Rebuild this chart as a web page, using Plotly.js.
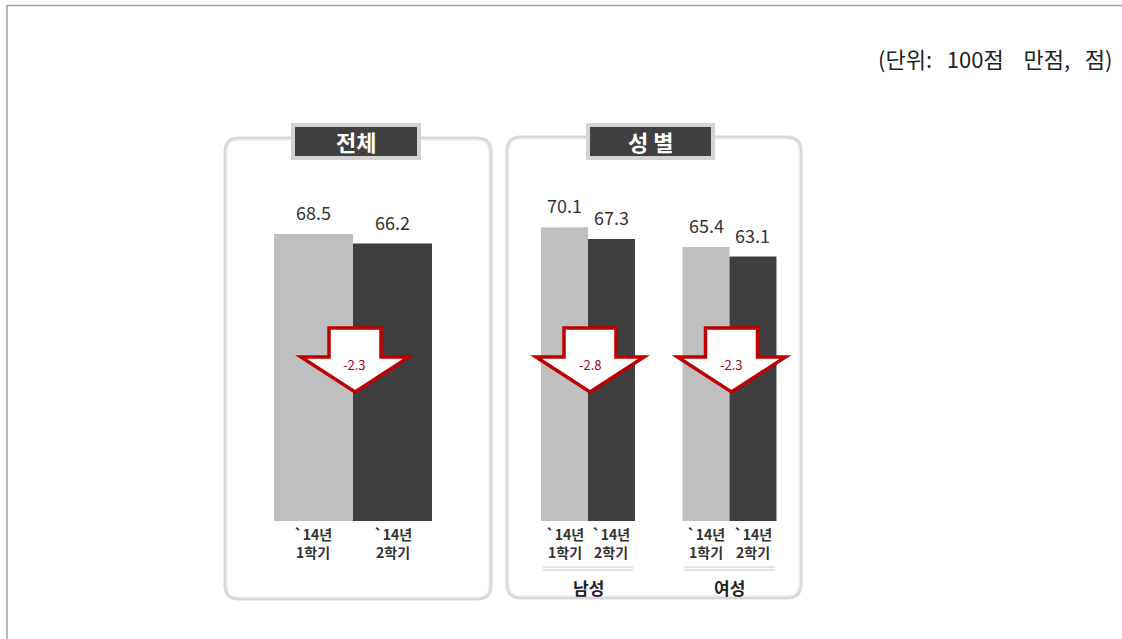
<!DOCTYPE html>
<html><head><meta charset="utf-8">
<script src="https://cdn.plot.ly/plotly-3.0.1.min.js"></script>
<style>html,body{margin:0;padding:0;background:#fff}#chart{width:1122px;height:639px}</style>
</head><body><div id="chart"></div>
<script>
// ---- data ----
const totalGroups = ['전체'];
const totalH1 = [68.5];
const totalH2 = [66.2];
const genderGroups = ['남성', '여성'];
const genderH1 = [70.1, 65.4];
const genderH2 = [67.3, 63.1];
const periodLabels = ['`14년<br>1학기', '`14년<br>2학기'];
const panelTitles = ['전체', '성 별'];
const unitText = '(단위:\u00a0\u00a0 100점\u00a0\u00a0\u00a0 만점,\u00a0\u00a0 점)';

// ---- layout helpers ----
const W = 1122, H = 639;
const FONT = '"Noto Sans CJK KR", "Noto Sans", sans-serif';
const LIGHT = '#bfbfbf', DARK = '#3f3f3f', RED = '#c00000';
const bargap = 0.336;
const bw = 1 - bargap;
const dom1 = [234 / W, 472 / W];
const dom2 = [517.25 / W, 800.25 / W];
const ppx = x => x / W;
const ppy = y => 1 - y / H;

const traces = [
  {type: 'bar', x: totalGroups, y: totalH1, xaxis: 'x', yaxis: 'y', marker: {color: LIGHT}, hoverinfo: 'skip', showlegend: false},
  {type: 'bar', x: totalGroups, y: totalH2, xaxis: 'x', yaxis: 'y', marker: {color: DARK}, hoverinfo: 'skip', showlegend: false},
  {type: 'bar', x: genderGroups, y: genderH1, xaxis: 'x2', yaxis: 'y', marker: {color: LIGHT}, hoverinfo: 'skip', showlegend: false},
  {type: 'bar', x: genderGroups, y: genderH2, xaxis: 'x2', yaxis: 'y', marker: {color: DARK}, hoverinfo: 'skip', showlegend: false}
];

const annotations = [];
const shapes = [];

// outer frame lines (top and left)
shapes.push({type: 'line', xref: 'paper', yref: 'paper', x0: ppx(7), x1: 1, y0: ppy(5.5), y1: ppy(5.5), line: {color: '#a0a0a0', width: 1.5}});
shapes.push({type: 'line', xref: 'paper', yref: 'paper', x0: ppx(7), x1: ppx(7), y0: ppy(5), y1: 0, line: {color: '#a0a0a0', width: 1.5}});

// rounded panel boxes
function roundRect(x0, y0, x1, y1, r) {
  const P = (x, y) => ppx(x) + ',' + ppy(y);
  return 'M' + P(x0 + r, y0) + ' L' + P(x1 - r, y0) + ' Q' + P(x1, y0) + ' ' + P(x1, y0 + r) +
    ' L' + P(x1, y1 - r) + ' Q' + P(x1, y1) + ' ' + P(x1 - r, y1) +
    ' L' + P(x0 + r, y1) + ' Q' + P(x0, y1) + ' ' + P(x0, y1 - r) +
    ' L' + P(x0, y0 + r) + ' Q' + P(x0, y0) + ' ' + P(x0 + r, y0) + ' Z';
}
[[225, 138, 491, 599], [507, 137, 801, 598]].forEach(b => {
  shapes.push({type: 'path', xref: 'paper', yref: 'paper', path: roundRect(b[0], b[1], b[2], b[3], 14), line: {color: '#d9d9d9', width: 3}, fillcolor: 'rgba(0,0,0,0)', layer: 'below'});
  shapes.push({type: 'path', xref: 'paper', yref: 'paper', path: roundRect(b[0] + 2, b[1] + 2, b[2] - 2, b[3] - 2, 12), line: {color: '#eeeeee', width: 1}, fillcolor: 'rgba(0,0,0,0)', layer: 'below'});
});

// title tabs
[[293, 125, 419, 158, panelTitles[0]], [588, 125, 713, 158, panelTitles[1]]].forEach(t => {
  shapes.push({type: 'rect', xref: 'paper', yref: 'paper', x0: ppx(t[0]), x1: ppx(t[2]), y0: ppy(t[1]), y1: ppy(t[3]), fillcolor: '#404040', line: {color: '#d3d3d3', width: 4}});
  annotations.push({xref: 'paper', yref: 'paper', x: ppx((t[0] + t[2]) / 2), y: ppy((t[1] + t[3]) / 2), text: '<b>' + t[4] + '</b>', showarrow: false, xanchor: 'center', yanchor: 'middle', font: {family: FONT, size: 22, color: '#ffffff'}});
});

// per-panel labels, values and arrows
function panel(groups, h1, h2, xref, dom) {
  const n = groups.length;
  groups.forEach((g, i) => {
    const xl = i - bw / 4, xr = i + bw / 4;
    [[xl, h1[i]], [xr, h2[i]]].forEach((p, k) => {
      annotations.push({xref: xref, yref: 'y', x: p[0], y: p[1], text: p[1].toFixed(1), showarrow: false, xanchor: 'center', yanchor: 'middle', yshift: 22, font: {family: FONT, size: 18, color: '#333333'}});
      annotations.push({xref: xref, yref: 'y', x: p[0], y: 0, text: '<b>' + periodLabels[k] + '</b>', showarrow: false, xanchor: 'center', yanchor: 'top', yshift: -1, font: {family: FONT, size: 14, color: '#333333'}});
    });
    // arrow
    const cxPx = (dom[0] + (dom[1] - dom[0]) * (i + 0.5) / n) * W + 2;
    const pts = [[cxPx - 26, 328], [cxPx + 26, 328], [cxPx + 26, 357], [cxPx + 54, 357], [cxPx, 392], [cxPx - 54, 357], [cxPx - 26, 357]];
    const path = 'M' + pts.map(p => ppx(p[0]) + ',' + ppy(p[1])).join(' L') + ' Z';
    shapes.push({type: 'path', xref: 'paper', yref: 'paper', path: path, fillcolor: '#ffffff', line: {color: RED, width: 3.5}});
    const diff = (h2[i] - h1[i]).toFixed(1);
    annotations.push({xref: 'paper', yref: 'paper', x: ppx(cxPx), y: ppy(364), text: diff, showarrow: false, xanchor: 'center', yanchor: 'middle', font: {family: FONT, size: 13, color: '#a50021'}});
  });
}
panel(totalGroups, totalH1, totalH2, 'x', dom1);
panel(genderGroups, genderH1, genderH2, 'x2', dom2);

// gender group labels with double rule
genderGroups.forEach((g, i) => {
  [567, 570].forEach(yy => shapes.push({type: 'line', xref: 'x2', yref: 'paper', x0: i - 0.32, x1: i + 0.32, y0: ppy(yy), y1: ppy(yy), line: {color: '#c8c8c8', width: 1}}));
  annotations.push({xref: 'x2', yref: 'paper', x: i, y: ppy(587), text: '<b>' + g + '</b>', showarrow: false, xanchor: 'center', yanchor: 'middle', font: {family: FONT, size: 17, color: '#222222'}});
});

// unit text
annotations.push({xref: 'paper', yref: 'paper', x: ppx(1114), y: ppy(58), text: unitText, showarrow: false, xanchor: 'right', yanchor: 'middle', font: {family: FONT, size: 22, color: '#222222'}});

const axisOff = {showgrid: false, zeroline: false, showline: false, showticklabels: false, ticks: '', fixedrange: true};
const layout = {
  width: W, height: H,
  margin: {l: 0, r: 0, t: 0, b: 0, pad: 0},
  paper_bgcolor: '#ffffff', plot_bgcolor: 'rgba(0,0,0,0)',
  barmode: 'group', bargap: bargap, bargroupgap: 0,
  showlegend: false,
  xaxis: Object.assign({type: 'category', domain: dom1, range: [-0.5, 0.5], anchor: 'y'}, axisOff),
  xaxis2: Object.assign({type: 'category', domain: dom2, range: [-0.5, 1.5], anchor: 'y'}, axisOff),
  yaxis: Object.assign({domain: [118 / H, 1], range: [0, 521 / 4.19]}, axisOff),
  shapes: shapes,
  annotations: annotations
};
Plotly.newPlot('chart', traces, layout, {displayModeBar: false, staticPlot: true});
</script>
</body></html>
